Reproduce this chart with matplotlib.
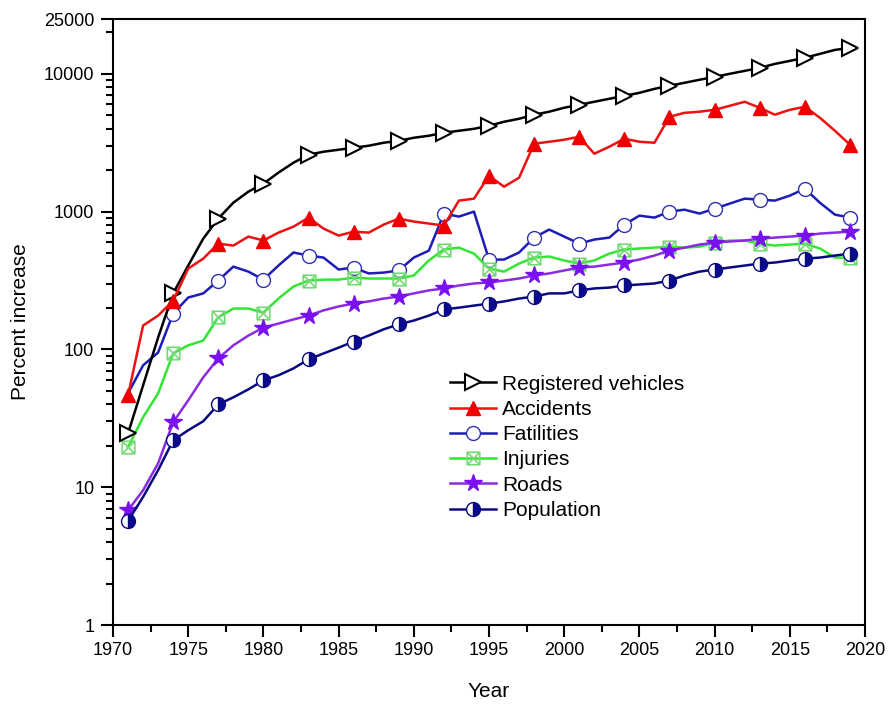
import numpy as np
import matplotlib
matplotlib.use("Agg")
import matplotlib.pyplot as plt
from matplotlib.path import Path
from matplotlib.ticker import LogLocator, FixedLocator, MultipleLocator, NullFormatter

plt.rcParams['font.family'] = ['Liberation Sans', 'DejaVu Sans']

# Data, percent increase relative to base year
years = np.arange(1971, 2020)

vehicles = [24.6, 54.8, 122, 255, 406, 637, 890, 1161, 1396, 1596,
            1918, 2265, 2588, 2722, 2813, 2910, 3008, 3162, 3266, 3436,
            3555, 3733, 3863, 3990, 4200, 4490, 4720, 5050, 5310, 5675,
            5960, 6270, 6590, 6930, 7280, 7780, 8190, 8610, 9060, 9510,
            10000, 10510, 11050, 11800, 12420, 13060, 13960, 14920, 15420]

accidents = [46.4, 149, 176, 226, 386, 456, 586, 567, 659, 617,
             704, 778, 905, 753, 670, 716, 704, 805, 890, 847,
             819, 792, 1202, 1242, 1822, 1517, 1763, 3110, 3214, 3325,
             3494, 2632, 2958, 3381, 3214, 3162, 4880, 5212, 5310, 5480,
             5860, 6270, 5675, 5050, 5480, 5770, 4800, 3863, 3060]

fatalities = [48, 76.6, 95, 182, 238, 255, 316, 399, 367, 321,
              406, 505, 480, 464, 380, 393, 356, 361, 374, 464,
              521, 968, 920, 1000, 449, 449, 505, 648, 741, 659,
              586, 627, 648, 805, 935, 905, 1000, 1033, 968, 1051,
              1143, 1242, 1222, 1202, 1306, 1468, 1161, 951, 905]

injuries = [19.5, 32.2, 48, 93.5, 107, 116, 171, 198, 198, 185,
            234, 286, 316, 321, 321, 332, 327, 327, 327, 344,
            442, 531, 548, 496, 386, 367, 420, 464, 472, 442,
            420, 442, 496, 531, 540, 548, 557, 548, 557, 596,
            617, 617, 586, 567, 577, 586, 540, 464, 464]

roads = [6.8, 9.5, 14.9, 29.6, 42.7, 62.7, 86, 107, 126, 144,
         154, 165, 176, 192, 205, 215, 223, 234, 242, 255,
         268, 277, 291, 301, 306, 316, 327, 344, 356, 374,
         393, 399, 413, 427, 449, 480, 521, 548, 577, 596,
         607, 617, 637, 648, 659, 670, 693, 704, 716]

population = [5.7, 8.5, 13.3, 21.9, 25.9, 30.1, 39.9, 44.9, 51.3, 59.6,
              64.9, 72.8, 84.7, 93.5, 103, 114, 126, 140, 152, 162,
              176, 195, 201, 208, 215, 223, 234, 242, 255, 255,
              268, 277, 281, 291, 296, 301, 316, 344, 367, 380,
              393, 406, 420, 427, 442, 456, 464, 480, 496]

ytick_vals = [1, 10, 100, 1000, 10000, 25000]
ytick_labels = ['1', '10', '100', '1000', '10000', '25000']

# square with a cross inside, for injuries
boxx = Path([(-1, -1), (1, -1), (1, 1), (-1, 1), (-1, -1),
             (-1, -1), (1, 1), (-1, 1), (1, -1)],
            [Path.MOVETO, Path.LINETO, Path.LINETO, Path.LINETO, Path.CLOSEPOLY,
             Path.MOVETO, Path.LINETO, Path.MOVETO, Path.LINETO])

fig = plt.figure(figsize=(8.88, 7.04), dpi=100)
ax = fig.add_axes([113/888, 79/704, 752/888, 606/704])

lw = 1.8
ax.plot(years, vehicles, color='black', lw=lw, marker='>', ms=11,
        mfc='white', mec='black', mew=1.5, markevery=3, label='Registered vehicles', zorder=4)
ax.plot(years, accidents, color='#ee1111', lw=lw, marker='^', ms=10,
        mfc='#ee0000', mec='#ee0000', markevery=3, label='Accidents', zorder=5)
# first fatalities marker sits under the accidents triangle in the original
ax.plot(years, fatalities, color='#1c1cb8', lw=lw, marker='o', ms=10,
        mfc='white', mec='#3030b0', mew=1.0, markevery=(3, 3), label='Fatilities', zorder=3)
ax.plot(years, injuries, color='#33e633', lw=lw, marker=boxx, ms=9,
        mfc='none', mec='#77d877', mew=1.2, markevery=3, label='Injuries', zorder=3)
ax.plot(years, roads, color='#8a2be2', lw=lw, marker='*', ms=13,
        mfc='#7a10f0', mec='#7a10f0', markevery=3, label='Roads', zorder=3)
ax.plot(years, population, color='#0a0a80', lw=lw, marker='o', ms=10,
        fillstyle='right', mfc='#0a0a90', mfcalt='white', mec='#0a0a80', mew=1.0,
        markevery=3, label='Population', zorder=3)

ax.set_yscale('log')
ax.set_xlim(1970, 2020)
ax.set_ylim(1, 25000)

ax.xaxis.set_major_locator(MultipleLocator(5))
ax.xaxis.set_minor_locator(MultipleLocator(2.5))
ax.yaxis.set_major_locator(FixedLocator(ytick_vals))
ax.set_yticklabels(ytick_labels)
ax.yaxis.set_minor_locator(LogLocator(base=10, subs=np.arange(2, 10), numticks=20))
ax.yaxis.set_minor_formatter(NullFormatter())

ax.tick_params(which='major', direction='out', length=8.5, width=1.5,
               labelsize=13, top=False, right=False)
ax.tick_params(axis='y', which='major', pad=5)
ax.tick_params(axis='x', which='major', pad=4)
ax.tick_params(which='minor', direction='out', length=4.8, width=1.5,
               top=False, right=False)
for s in ax.spines.values():
    s.set_linewidth(1.5)

ax.set_xlabel('Year', fontsize=15, labelpad=16)
ax.set_ylabel('Percent increase', fontsize=15, labelpad=10)

ax.legend(loc='upper left', bbox_to_anchor=(0.448, 0.413), frameon=False,
          fontsize=15, borderpad=0, borderaxespad=0, handlelength=2.2,
          handletextpad=0.3, labelspacing=0.3)

fig.savefig('out.png', dpi=100)
